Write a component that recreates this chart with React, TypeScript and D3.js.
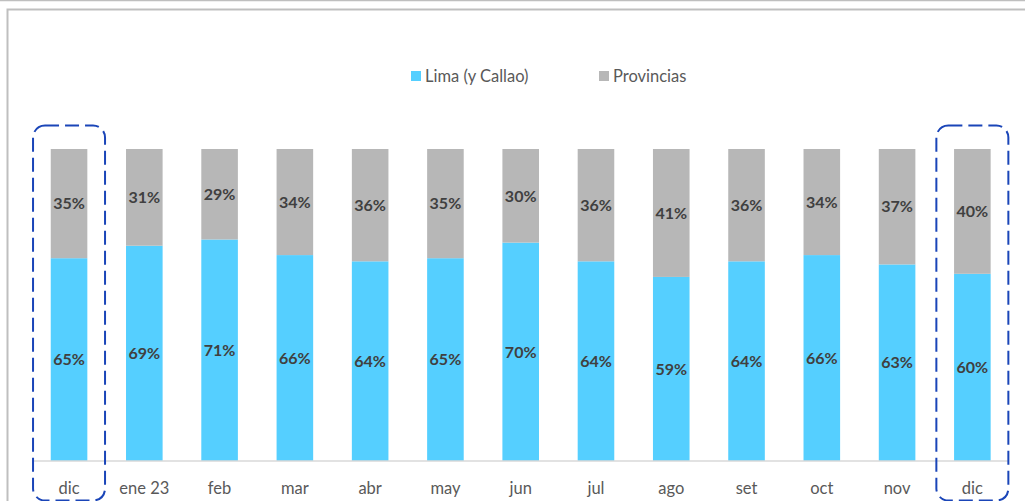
import React from "react";
import * as d3 from "d3";

const categories = ["dic", "ene 23", "feb", "mar", "abr", "may", "jun", "jul", "ago", "set", "oct", "nov", "dic "];
const lima = [65, 69, 71, 66, 64, 65, 70, 64, 59, 64, 66, 63, 60];
const provincias = [35, 31, 29, 34, 36, 35, 30, 36, 41, 36, 34, 37, 40];
const seriesNames = ["Lima (y Callao)", "Provincias"];
const seriesColors = ["#55CFFF", "#B7B7B7"];
const highlighted = [0, 12];

const W = 1025;
const H = 501;
const FONT = "Lato, 'Open Sans', sans-serif";

export default function App() {
  const x = d3.scaleBand<string>().domain(categories).range([31.4, 1010]).paddingInner(0.514).paddingOuter(0.257);
  const y = d3.scaleLinear().domain([0, 100]).range([461, 149]);
  const rows = categories.map((c, i) => ({ cat: c, lima: lima[i], prov: provincias[i] }));
  const stack = d3.stack<any>().keys(["lima", "prov"]);
  const stacked = stack(rows);
  const bw = x.bandwidth();

  return (
    <svg width={W} height={H} style={{ position: "absolute", left: 0, top: 0 }} fontFamily={FONT}>
      <rect x={0} y={0} width={W} height={H} fill="#fff" />
      <line x1={0} x2={W} y1={0.5} y2={0.5} stroke="#bfbfbf" strokeWidth={1.5} />
      <path d={`M7.5,${H} L7.5,9.5 L${W},9.5`} fill="none" stroke="#bfbfbf" strokeWidth={2} />
      {stacked.map((s, si) => (
        <g key={si}>
          {s.map((d, i) => (
            <rect key={i} x={x(categories[i])} y={y(d[1])} width={bw} height={y(d[0]) - y(d[1])} fill={seriesColors[si]} />
          ))}
        </g>
      ))}
      {stacked.map((s, si) => (
        <g key={"l" + si}>
          {s.map((d, i) => (
            <text key={i} x={(x(categories[i]) as number) + bw / 2} y={(y(d[0]) + y(d[1])) / 2} dy="0.36em" textAnchor="middle" fontSize={16} fontWeight="bold" fill="#404040">
              {`${d[1] - d[0]}%`}
            </text>
          ))}
        </g>
      ))}
      <line x1={33} x2={1008} y1={461} y2={461} stroke="#d9d9d9" strokeWidth={1.5} />
      {categories.map((c, i) => (
        <text key={i} x={(x(c) as number) + bw / 2} y={488} dy="0.35em" textAnchor="middle" fontSize={16.5} fill="#595959">
          {c.trim()}
        </text>
      ))}
      {highlighted.map((i) => {
        const cx = (x(categories[i]) as number) + bw / 2;
        return (
          <rect key={i} x={cx - 36} y={125.5} width={72} height={375} rx={12} ry={12} fill="none" stroke="#1a45b8" strokeWidth={2} strokeDasharray="14 6" />
        );
      })}
      <g>
        <rect x={411} y={71} width={10} height={10} fill={seriesColors[0]} />
        <text x={425} y={76} dy="0.35em" fontSize={16.5} fill="#595959">{seriesNames[0]}</text>
        <rect x={599} y={71} width={10} height={10} fill={seriesColors[1]} />
        <text x={613} y={76} dy="0.35em" fontSize={16.5} fill="#595959">{seriesNames[1]}</text>
      </g>
    </svg>
  );
}
